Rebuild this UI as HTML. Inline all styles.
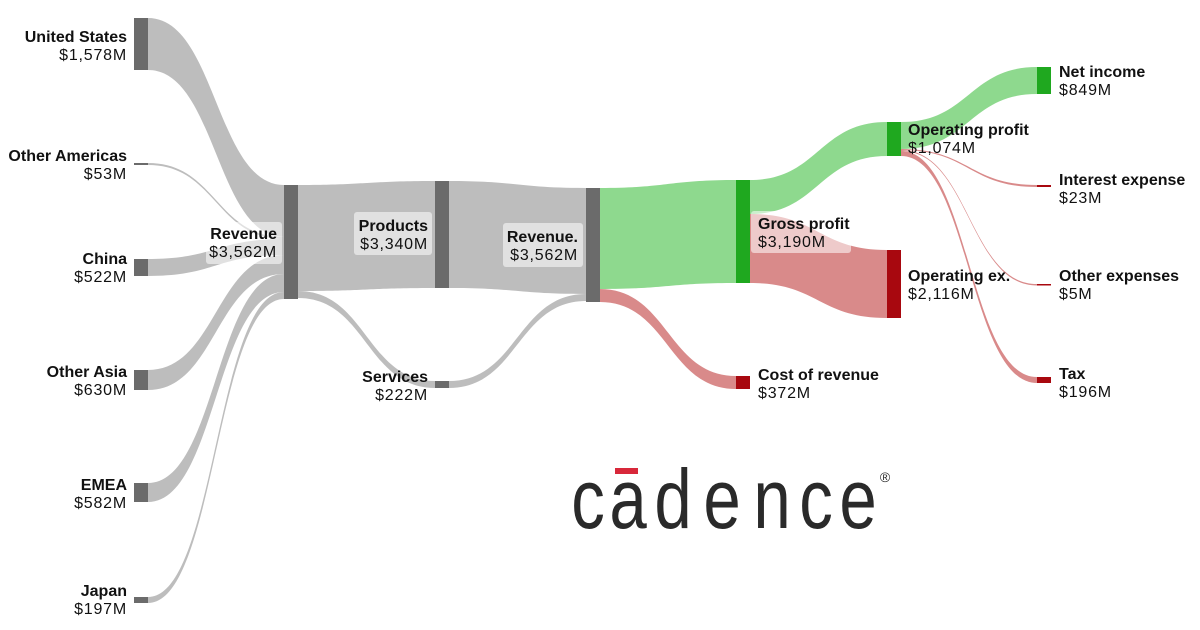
<!DOCTYPE html>
<html><head><meta charset="utf-8"><style>
html,body{margin:0;padding:0;background:#fff;}
svg{display:block;font-family:"Liberation Sans",Arial,sans-serif;}
.b{font-weight:bold;font-size:16px;fill:#111;}
.v{font-size:16px;fill:#111;letter-spacing:0.8px;}
.lg{font-size:84px;fill:#2a2a2a;}
</style></head><body>
<svg id="s" width="1200" height="630" viewBox="0 0 1200 630" xmlns="http://www.w3.org/2000/svg">
<g id="links"></g>
<g id="nodes"></g>
<g id="labels">
<rect x="206" y="222" width="76" height="42" rx="3" fill="#fff" fill-opacity="0.55"/>
<rect x="354" y="212" width="78" height="43" rx="3" fill="#fff" fill-opacity="0.55"/>
<rect x="503" y="223" width="80" height="44" rx="3" fill="#fff" fill-opacity="0.55"/>
<rect x="751" y="211" width="100" height="42" rx="3" fill="#fff" fill-opacity="0.55"/>
<g text-anchor="end">
<text x="127" y="42" class="b">United States</text><text x="127" y="60" class="v">$1,578M</text>
<text x="127" y="161" class="b">Other Americas</text><text x="127" y="179" class="v">$53M</text>
<text x="127" y="264" class="b">China</text><text x="127" y="282" class="v">$522M</text>
<text x="127" y="377" class="b">Other Asia</text><text x="127" y="395" class="v">$630M</text>
<text x="127" y="490" class="b">EMEA</text><text x="127" y="508" class="v">$582M</text>
<text x="127" y="596" class="b">Japan</text><text x="127" y="614" class="v">$197M</text>
<text x="277" y="239" class="b">Revenue</text><text x="277" y="257" class="v">$3,562M</text>
<text x="428" y="231" class="b">Products</text><text x="428" y="249" class="v">$3,340M</text>
<text x="578" y="242" class="b">Revenue.</text><text x="578" y="260" class="v">$3,562M</text>
<text x="428" y="382" class="b">Services</text><text x="428" y="400" class="v">$222M</text>
</g>
<text x="758" y="229" class="b">Gross profit</text><text x="758" y="247" class="v">$3,190M</text>
<text x="758" y="380" class="b">Cost of revenue</text><text x="758" y="398" class="v">$372M</text>
<text x="908" y="135" class="b">Operating profit</text><text x="908" y="153" class="v">$1,074M</text>
<text x="908" y="281" class="b">Operating ex.</text><text x="908" y="299" class="v">$2,116M</text>
<text x="1059" y="77" class="b">Net income</text><text x="1059" y="95" class="v">$849M</text>
<text x="1059" y="185" class="b">Interest expense</text><text x="1059" y="203" class="v">$23M</text>
<text x="1059" y="281" class="b">Other expenses</text><text x="1059" y="299" class="v">$5M</text>
<text x="1059" y="379" class="b">Tax</text><text x="1059" y="397" class="v">$196M</text>
</g>
<g text-anchor="middle">
<rect x="615" y="468" width="23" height="6" fill="#d8283a"/>
<text class="lg" transform="translate(588,528) scale(0.8,1)">c</text>
<text class="lg" transform="translate(628,528) scale(0.8,1)">a</text>
<text class="lg" transform="translate(673,528) scale(0.8,1)">d</text>
<text class="lg" transform="translate(722,528) scale(0.8,1)">e</text>
<text class="lg" transform="translate(772,528) scale(0.8,1)">n</text>
<text class="lg" transform="translate(816,528) scale(0.8,1)">c</text>
<text class="lg" transform="translate(858,528) scale(0.8,1)">e</text>
<text x="885" y="482" font-size="14" fill="#2a2a2a">®</text>
</g>
</svg>
<script>
var NS="http://www.w3.org/2000/svg";
var L=document.getElementById("links"),N=document.getElementById("nodes");
var G="#bdbdbd",GN="#6b6b6b",GR="#8ed98e",GRN="#1fa81f",R="#d98a8a",RN="#a8080f";
function link(x0,a0,b0,x1,a1,b1,c){
 var m=(x0+x1)/2;
 var d="M"+x0+","+a0+" C"+m+","+a0+" "+m+","+a1+" "+x1+","+a1+" L"+x1+","+b1+" C"+m+","+b1+" "+m+","+b0+" "+x0+","+b0+" Z";
 var p=document.createElementNS(NS,"path");p.setAttribute("d",d);p.setAttribute("fill",c);L.appendChild(p);
}
function node(x,y0,y1,c){var r=document.createElementNS(NS,"rect");r.setAttribute("x",x);r.setAttribute("y",y0);r.setAttribute("width",14);r.setAttribute("height",Math.max(y1-y0,1.5));r.setAttribute("fill",c);N.appendChild(r);}
link(148,18,70,284,185,237,G);
link(148,163,165,284,237,239,G);
link(148,259,276,284,239,255,G);
link(148,370,390,284,255,274,G);
link(148,483,502,284,274,292,G);
link(148,597,603,284,292,299,G);
link(298,185,291,435,181,288,G);
link(298,291,298,435,381,388,G);
link(449,181,288,586,188,294,G);
link(449,381,388,586,294,301,G);
link(600,188,289,736,180,283,GR);
link(600,289,302,736,376,389,R);
link(750,180,214,887,122,156,GR);
link(750,214,283,887,250,318,R);
link(901,122,149,1037,67,94,GR);
link(901,149,150,1037,185,187,R);
link(901,150,151,1037,284,285.5,R);
link(901,151,156,1037,377,383,R);
node(134,18,70,GN);node(134,163,165,GN);node(134,259,276,GN);node(134,370,390,GN);node(134,483,502,GN);node(134,597,603,GN);
node(284,185,299,GN);node(435,181,288,GN);node(435,381,388,GN);node(586,188,302,GN);
node(736,180,283,GRN);node(736,376,389,RN);
node(887,122,156,GRN);node(887,250,318,RN);
node(1037,67,94,GRN);node(1037,185,187,RN);node(1037,284,285.5,RN);node(1037,377,383,RN);
</script>
</body></html>
